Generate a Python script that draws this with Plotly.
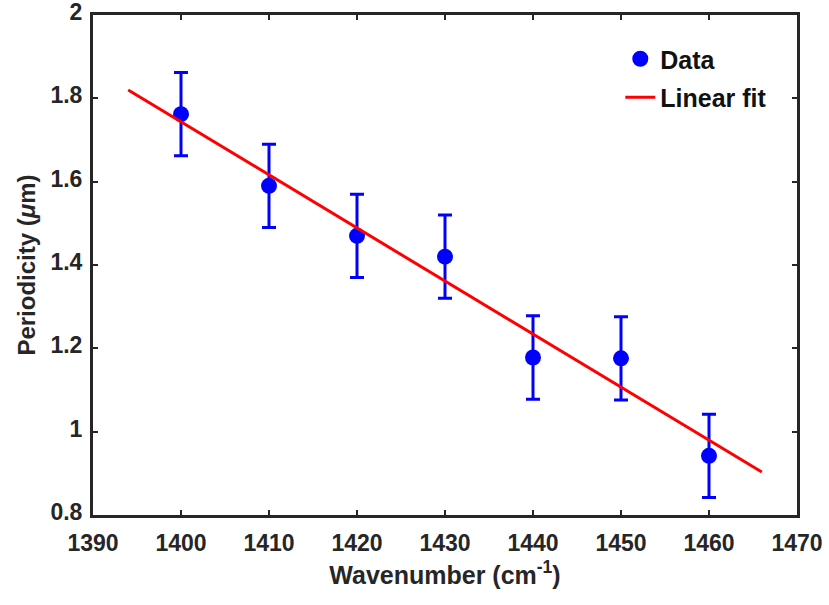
import plotly.graph_objects as go

# Data
wavenumber = [1400, 1410, 1420, 1430, 1440, 1450, 1460]
periodicity = [1.762, 1.590, 1.470, 1.420, 1.178, 1.176, 0.942]
error = [0.10, 0.10, 0.10, 0.10, 0.10, 0.10, 0.10]

fit_x = [1394, 1466]
fit_y = [1.820, 0.903]

x_ticks = [1390, 1400, 1410, 1420, 1430, 1440, 1450, 1460, 1470]
y_ticks = [0.8, 1.0, 1.2, 1.4, 1.6, 1.8, 2.0]
y_tick_labels = ["0.8", "1", "1.2", "1.4", "1.6", "1.8", "2"]

FONT = "Liberation Sans, Arial, sans-serif"
AXIS_COLOR = "#262626"

fig = go.Figure()
fig.add_trace(go.Scatter(
    x=wavenumber, y=periodicity, mode="markers", name="<b>Data</b>",
    legendgroup="a",
    marker=dict(color="#0000FF", size=16, line=dict(width=0)),
    error_y=dict(type="data", array=error, visible=True, color="#0000FF",
                 thickness=3, width=7),
))
fig.add_trace(go.Scatter(
    x=fit_x, y=fit_y, mode="lines", name="<b>Linear fit</b>",
    legendgroup="b",
    line=dict(color="#FF0000", width=3),
))

axis_common = dict(
    showline=True, linecolor=AXIS_COLOR, linewidth=3, mirror="ticks",
    ticks="inside", ticklen=5, tickwidth=2, tickcolor=AXIS_COLOR,
    showgrid=False, zeroline=False, automargin=False,
    ticklabeloverflow="allow",
    tickfont=dict(family=FONT, size=23, color=AXIS_COLOR),
)

fig.update_layout(
    width=829, height=605,
    paper_bgcolor="white", plot_bgcolor="white",
    margin=dict(l=93, r=32, t=15, b=90),
    xaxis=dict(
        range=[1390, 1470], tickvals=x_ticks,
        ticktext=[f"<b>{t}</b>" for t in x_ticks],
        ticklabelstandoff=5,
        title=dict(text="<b>Wavenumber (cm<sup>-1</sup>)</b>",
                   font=dict(family=FONT, size=25, color=AXIS_COLOR), standoff=12),
        **axis_common,
    ),
    yaxis=dict(
        range=[0.8, 2.0], tickvals=y_ticks,
        ticktext=[f"<b>{t}</b>" for t in y_tick_labels],
        ticklabelstandoff=3, ticklabelshift=-3,
        title=dict(text="<b>Periodicity (<i>μ</i>m)</b>",
                   font=dict(family=FONT, size=24, color=AXIS_COLOR), standoff=9),
        **axis_common,
    ),
    legend=dict(
        x=0.749, y=0.958, xanchor="left", yanchor="top",
        bgcolor="rgba(255,255,255,0)", borderwidth=0,
        font=dict(family=FONT, size=25, color="#111111"),
        traceorder="grouped", tracegroupgap=3,
    ),
    showlegend=True,
)

fig.write_html(
    "out.html",
    config={"displayModeBar": False},
    post_script="document.body.style.margin='0px';",
)
